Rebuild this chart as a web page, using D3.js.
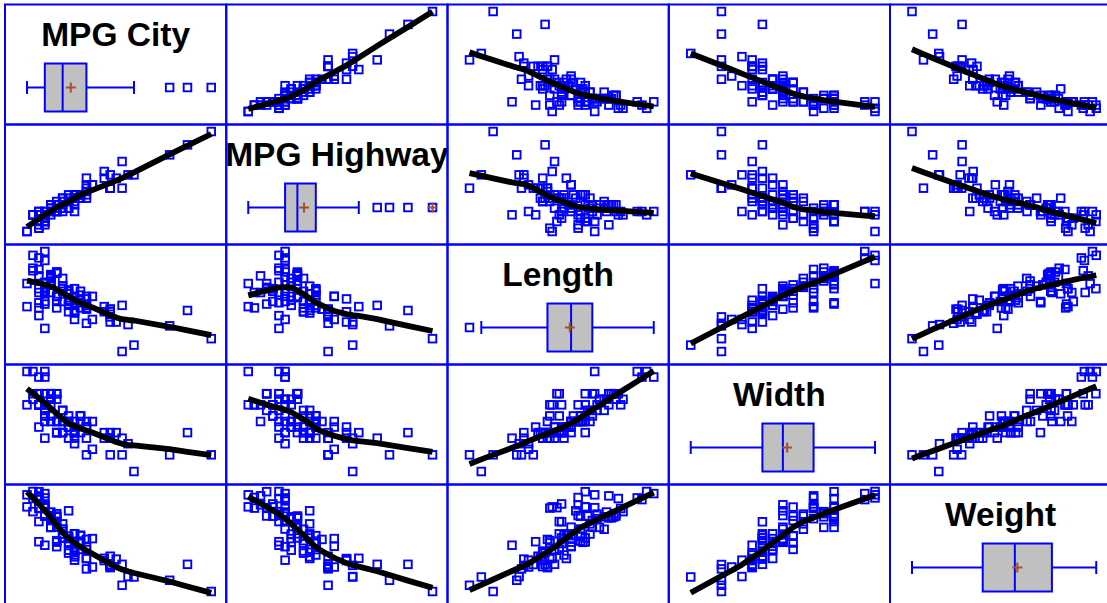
<!DOCTYPE html>
<html>
<head>
<meta charset="utf-8">
<script src="https://cdn.jsdelivr.net/npm/d3@7"></script>
<style>
html,body{margin:0;padding:0;background:#fff;overflow:hidden;}
svg{display:block;}
</style>
</head>
<body>
<svg id="chart" width="1107" height="603"></svg>
<script>
// Variables (diagonal labels)
const variables = ["MPG City", "MPG Highway", "Length", "Width", "Weight"];

// Cars (93 observations)
const mpgCity = [25,18,20,19,22,22,19,16,19,16,16,25,25,19,21,18,15,17,17,20,23,20,29,23,22,17,21,18,29,20,31,23,22,22,24,15,21,18,46,30,24,42,24,29,22,26,20,17,18,18,17,18,29,28,26,18,17,20,19,23,19,29,18,29,24,17,21,24,23,18,19,23,31,23,19,19,19,20,28,33,25,23,39,32,25,22,18,25,17,21,18,21,20];
const mpgHighway = [31,25,26,26,30,31,28,25,27,25,25,36,34,28,29,23,20,26,25,28,28,26,33,29,27,21,27,24,33,28,33,30,27,29,30,20,30,26,50,36,31,46,31,33,29,34,27,22,24,23,26,26,37,36,34,24,25,29,25,26,26,33,24,33,30,23,26,31,31,23,28,30,41,31,28,27,28,26,38,37,30,30,43,37,32,29,22,33,21,30,25,28,28];
const lengthIn = [177,195,180,193,186,189,200,216,198,206,204,182,184,193,198,178,194,214,179,203,183,203,174,172,181,175,192,180,174,202,141,171,177,180,179,176,192,212,151,164,175,173,185,168,172,166,184,200,188,191,205,219,164,172,184,190,169,175,187,166,199,172,190,170,181,190,188,188,190,194,201,173,177,181,196,195,200,184,176,146,175,179,161,162,174,188,187,163,187,180,159,190,184];
const widthIn = [68,71,67,70,69,69,74,78,73,73,74,68,68,74,71,74,78,77,74,74,68,73,66,67,68,72,69,72,66,74,63,67,68,68,70,72,71,78,63,67,70,67,70,63,66,64,69,72,70,71,72,77,66,66,69,72,68,67,69,65,73,66,70,67,67,74,69,69,69,74,74,67,66,66,73,72,74,67,67,60,66,67,63,65,69,70,69,63,72,67,66,67,69];
const weightLb = [2705,3560,3375,3405,3640,2880,3470,4105,3495,3620,3935,2490,2785,3240,3195,3715,4025,3910,3380,3515,3085,3570,2270,2670,2970,3705,3080,3805,2295,3490,1845,2530,2690,2850,2710,3735,3325,3950,1695,2475,2865,2350,3040,2345,2620,2285,2885,4000,3510,3515,3695,4055,2325,2440,2970,3735,2895,2920,3525,2450,3610,2295,3730,2545,3050,4100,3200,2910,2890,3715,3470,2640,2350,2575,3240,3450,3495,2775,2495,2045,2490,3085,1965,2055,2950,3030,3785,2240,3960,2985,2810,2985,3245];

const series = [mpgCity, mpgHighway, lengthIn, widthIn, weightLb];

// ---- layout ----
const nVar = variables.length;
const gridX0 = 5, gridY0 = 4.5, cellW = 221.25, cellH = 120;
const padL = 22, padR = 15, padT = 7, padB = 13;
const BLUE = "#0000ff", GRAY = "#c0c0c0", BROWN = "#a0522d";
const MS = 7.6, MSW = 1.9;

const svg = d3.select("#chart");

const xScales = series.map((vals, j) => d3.scaleLinear()
  .domain(d3.extent(vals))
  .range([gridX0 + j * cellW + padL, gridX0 + (j + 1) * cellW - padR]));
const yScales = series.map((vals, i) => d3.scaleLinear()
  .domain(d3.extent(vals))
  .range([gridY0 + (i + 1) * cellH - padB, gridY0 + i * cellH + padT]));

// lowess smoother (Cleveland, f = 2/3, iter = 3)
function lowess(xs, ys, f = 2 / 3, iter = 3) {
  const idx = d3.range(xs.length).sort((a, b) => xs[a] - xs[b]);
  const x = idx.map(k => xs[k]), y = idx.map(k => ys[k]);
  const n = x.length;
  const ns = Math.max(Math.min(Math.round(f * n), n), 2);
  const range = x[n - 1] - x[0];
  let rw = new Array(n).fill(1);
  const fit = new Array(n).fill(0);
  function lowest(xsv, nleft, nright, useRw) {
    const h = Math.max(xsv - x[nleft], x[nright] - xsv);
    const h9 = 0.999 * h, h1 = 0.001 * h;
    const w = new Array(n).fill(0);
    let a = 0, j = nleft;
    while (j < n) {
      const r = Math.abs(x[j] - xsv);
      if (r <= h9) {
        w[j] = r <= h1 ? 1 : Math.pow(1 - Math.pow(r / h, 3), 3);
        if (useRw) w[j] *= rw[j];
        a += w[j];
      } else if (x[j] > xsv) break;
      j++;
    }
    const nrt = j - 1;
    if (a <= 0) return null;
    for (let k = nleft; k <= nrt; k++) w[k] /= a;
    if (h > 0) {
      let aa = 0;
      for (let k = nleft; k <= nrt; k++) aa += w[k] * x[k];
      let b = xsv - aa, c = 0;
      for (let k = nleft; k <= nrt; k++) c += w[k] * (x[k] - aa) * (x[k] - aa);
      if (Math.sqrt(c) > 0.001 * range) {
        b /= c;
        for (let k = nleft; k <= nrt; k++) w[k] *= (b * (x[k] - aa) + 1);
      }
    }
    let s = 0;
    for (let k = nleft; k <= nrt; k++) s += w[k] * y[k];
    return s;
  }
  for (let it = 0; it <= iter; it++) {
    let nleft = 0, nright = ns - 1;
    for (let i = 0; i < n; i++) {
      while (nright < n - 1) {
        const d1 = x[i] - x[nleft], d2 = x[nright + 1] - x[i];
        if (d1 <= d2) break;
        nleft++; nright++;
      }
      const v = lowest(x[i], nleft, nright, it > 0);
      fit[i] = v === null ? y[i] : v;
    }
    if (it === iter) break;
    const absr = y.map((v, k) => Math.abs(v - fit[k]));
    const cmad = 6 * d3.median(absr);
    if (cmad < 1e-7 * d3.mean(y.map(Math.abs))) break;
    const c9 = 0.999 * cmad, c1 = 0.001 * cmad;
    rw = absr.map(r => r <= c1 ? 1 : (r <= c9 ? Math.pow(1 - Math.pow(r / cmad, 2), 2) : 0));
  }
  return x.map((v, k) => [v, fit[k]]);
}

const cells = svg.append("g");

for (let i = 0; i < nVar; i++) {
  for (let j = 0; j < nVar; j++) {
    const x0 = gridX0 + j * cellW, y0 = gridY0 + i * cellH;
    const g = cells.append("g");
    if (i !== j) {
      const xs = xScales[j], ys = yScales[i];
      const xv = series[j], yv = series[i];
      const pts = xv.map((v, k) => [v, yv[k]]);
      g.selectAll("rect.pt").data(pts).join("rect")
        .attr("class", "pt")
        .attr("x", d => xs(d[0]) - MS / 2)
        .attr("y", d => ys(d[1]) - MS / 2)
        .attr("width", MS).attr("height", MS)
        .attr("fill", "none").attr("stroke", BLUE).attr("stroke-width", MSW);
      const sm = lowess(xv, yv);
      g.append("path")
        .attr("d", d3.line().x(d => xs(d[0])).y(d => ys(d[1]))(sm))
        .attr("fill", "none").attr("stroke", "#000")
        .attr("stroke-width", 5.8).attr("stroke-linejoin", "round");
    } else {
      const vals = series[i].slice().sort(d3.ascending);
      const xs = xScales[i];
      const q1 = d3.quantile(vals, 0.25), med = d3.quantile(vals, 0.5), q3 = d3.quantile(vals, 0.75);
      const iqr = q3 - q1;
      const lo = q1 - 1.5 * iqr, hi = q3 + 1.5 * iqr;
      const farLo = q1 - 3 * iqr, farHi = q3 + 3 * iqr;
      const wLo = d3.min(vals.filter(v => v >= lo)), wHi = d3.max(vals.filter(v => v <= hi));
      const outs = Array.from(new Set(vals.filter(v => v < lo || v > hi)));
      const mean = d3.mean(vals);
      const cy = y0 + 83, bh = 48, capH = 13;
      g.append("text")
        .attr("x", x0 + cellW / 2).attr("y", y0 + 41)
        .attr("text-anchor", "middle")
        .attr("font-family", "'Liberation Sans', Arial, sans-serif")
        .attr("font-weight", "bold").attr("font-size", 33.5)
        .attr("fill", "#000")
        .text(variables[i]);
      g.append("line").attr("x1", xs(wLo)).attr("x2", xs(q1)).attr("y1", cy).attr("y2", cy)
        .attr("stroke", BLUE).attr("stroke-width", 2);
      g.append("line").attr("x1", xs(q3)).attr("x2", xs(wHi)).attr("y1", cy).attr("y2", cy)
        .attr("stroke", BLUE).attr("stroke-width", 2);
      [wLo, wHi].forEach(v => g.append("line")
        .attr("x1", xs(v)).attr("x2", xs(v)).attr("y1", cy - capH / 2).attr("y2", cy + capH / 2)
        .attr("stroke", BLUE).attr("stroke-width", 2));
      g.append("rect").attr("x", xs(q1)).attr("y", cy - bh / 2)
        .attr("width", xs(q3) - xs(q1)).attr("height", bh)
        .attr("fill", GRAY).attr("stroke", BLUE).attr("stroke-width", 2);
      g.append("line").attr("x1", xs(med)).attr("x2", xs(med))
        .attr("y1", cy - bh / 2).attr("y2", cy + bh / 2)
        .attr("stroke", BLUE).attr("stroke-width", 2);
      const mx = xs(mean);
      g.append("path").attr("d", `M${mx - 5},${cy}H${mx + 5}M${mx},${cy - 5}V${cy + 5}`)
        .attr("stroke", BROWN).attr("stroke-width", 2).attr("fill", "none");
      outs.forEach(v => {
        g.append("rect").attr("x", xs(v) - MS / 2).attr("y", cy - MS / 2).attr("width", MS).attr("height", MS)
          .attr("fill", "none").attr("stroke", BLUE).attr("stroke-width", MSW);
        if (v < farLo || v > farHi) {
          const ox = xs(v);
          g.append("path").attr("d", `M${ox - 5},${cy}H${ox + 5}M${ox},${cy - 5}V${cy + 5}`)
            .attr("stroke", BROWN).attr("stroke-width", 2).attr("fill", "none");
        }
      });
    }
    g.append("rect").attr("x", x0).attr("y", y0).attr("width", cellW).attr("height", cellH)
      .attr("fill", "none").attr("stroke", BLUE).attr("stroke-width", 2);
  }
}
</script>
</body>
</html>
